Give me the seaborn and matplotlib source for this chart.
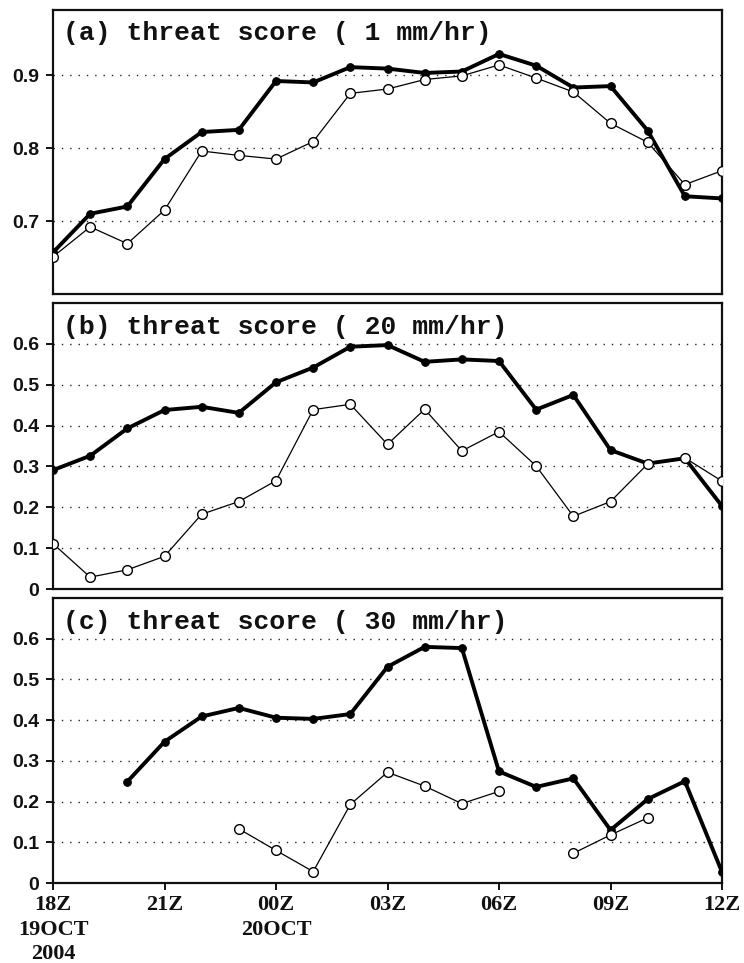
import numpy as np
import pandas as pd
import matplotlib
matplotlib.use("Agg")
import matplotlib.pyplot as plt
import seaborn as sns

# ---------------- data ----------------
hours = list(range(19))  # 18Z 19OCT .. 12Z 20OCT, hourly
xtick_pos = [0, 3, 6, 9, 12, 15, 18]
xtick_labels = ["18Z\n19OCT\n2004", "21Z", "00Z\n20OCT", "03Z", "06Z", "09Z", "12Z"]

titles = ["(a) threat score ( 1 mm/hr)",
          "(b) threat score ( 20 mm/hr)",
          "(c) threat score ( 30 mm/hr)"]

a_filled = [0.657, 0.710, 0.720, 0.785, 0.822, 0.825, 0.892, 0.890, 0.911, 0.909,
            0.903, 0.905, 0.929, 0.913, 0.883, 0.885, 0.824, 0.734, 0.731]
a_open = [0.651, 0.692, 0.669, 0.715, 0.796, 0.790, 0.785, 0.809, 0.875, 0.881,
          0.894, 0.899, 0.914, 0.896, 0.877, 0.834, 0.808, 0.750, 0.769]

b_filled = [0.291, 0.326, 0.393, 0.438, 0.446, 0.431, 0.506, 0.542, 0.593, 0.597,
            0.556, 0.562, 0.558, 0.439, 0.475, 0.340, 0.307, 0.320, 0.203]
b_open = [0.111, 0.029, 0.047, 0.080, 0.183, 0.214, 0.265, 0.439, 0.452, 0.354,
          0.440, 0.338, 0.385, 0.301, 0.178, 0.214, 0.306, 0.321, 0.264]

nan = np.nan
c_filled = [nan, nan, 0.249, 0.347, 0.409, 0.430, 0.406, 0.403, 0.415, 0.531,
            0.580, 0.577, 0.274, 0.236, 0.257, 0.130, 0.206, 0.250, 0.027]
c_open = [nan, nan, nan, nan, nan, 0.133, 0.080, 0.028, 0.193, 0.272,
          0.238, 0.195, 0.225, nan, 0.073, 0.118, 0.160, nan, nan]

ylims = [(0.6, 0.99), (0.0, 0.70), (0.0, 0.70)]
yticks = [[0.7, 0.8, 0.9],
          [0, 0.1, 0.2, 0.3, 0.4, 0.5, 0.6],
          [0, 0.1, 0.2, 0.3, 0.4, 0.5, 0.6]]
yticklabels = [["0.7", "0.8", "0.9"],
               ["0", "0.1", "0.2", "0.3", "0.4", "0.5", "0.6"],
               ["0", "0.1", "0.2", "0.3", "0.4", "0.5", "0.6"]]
grid_levels = [[0.7, 0.8, 0.9],
               [0.1, 0.2, 0.3, 0.4, 0.5, 0.6],
               [0.1, 0.2, 0.3, 0.4, 0.5, 0.6]]

# ---------------- style ----------------
sns.set_style("white")
plt.rcParams["font.family"] = ["Liberation Sans", "DejaVu Sans"]

fig = plt.figure(figsize=(7.44, 9.63), dpi=100)
left, width = 53 / 744, 669 / 744
boxes = [(9.5, 294), (303, 589), (598, 883)]


def segments(vals):
    """Split a series into contiguous non-missing runs (table with a 'seg' id)."""
    df = pd.DataFrame({"hour": hours, "val": vals})
    df["seg"] = df["val"].isna().cumsum()
    return df.dropna()


series = [(a_filled, a_open), (b_filled, b_open), (c_filled, c_open)]

for i, ((top, bot), (filled, opened)) in enumerate(zip(boxes, series)):
    ax = fig.add_axes([left, 1 - bot / 963, width, (bot - top) / 963])
    for lvl in grid_levels[i]:
        ax.axhline(lvl, color="#222222", lw=1.0, linestyle=(0, (1, 5)), zorder=1)

    df_f = segments(filled)
    for _, seg in df_f.groupby("seg"):
        sns.lineplot(data=seg, x="hour", y="val", ax=ax, color="black", lw=2.8,
                     marker="o", markersize=5.5, markerfacecolor="black",
                     markeredgecolor="black", zorder=3, legend=False)
    df_o = segments(opened)
    for _, seg in df_o.groupby("seg"):
        sns.lineplot(data=seg, x="hour", y="val", ax=ax, color="black", lw=0.9,
                     marker="o", markersize=7, markerfacecolor="white",
                     markeredgecolor="black", markeredgewidth=1.0, zorder=4,
                     legend=False)

    ax.set_xlim(0, 18)
    ax.set_ylim(*ylims[i])
    ax.set_yticks(yticks[i])
    ax.set_yticklabels(yticklabels[i], fontsize=14, fontweight="bold",
                       family=["Liberation Sans", "DejaVu Sans"])
    ax.set_xlabel("")
    ax.set_ylabel("")
    for sp in ax.spines.values():
        sp.set_linewidth(1.6)
        sp.set_color("#111111")
        sp.set_visible(True)
    ax.tick_params(axis="y", direction="out", length=5, width=1.4, pad=5,
                   left=True, colors="#111111")
    if i == 2:
        ax.set_xticks(xtick_pos)
        ax.set_xticklabels(xtick_labels, fontsize=16, fontweight="bold",
                           family=["Liberation Serif", "DejaVu Serif"])
        for t in ax.get_xticklabels():
            t.set_linespacing(1.28)
        ax.tick_params(axis="x", direction="out", length=5, width=1.4, pad=4,
                       bottom=True, colors="#111111")
    else:
        ax.set_xticks([])
    ax.text(10 / 669, 1 - 11.5 / (bot - top), titles[i], transform=ax.transAxes,
            ha="left", va="top", fontsize=19, fontweight="bold",
            family=["Liberation Mono", "DejaVu Sans Mono"], color="#111111",
            zorder=6)

fig.savefig("out.png", dpi=100)
